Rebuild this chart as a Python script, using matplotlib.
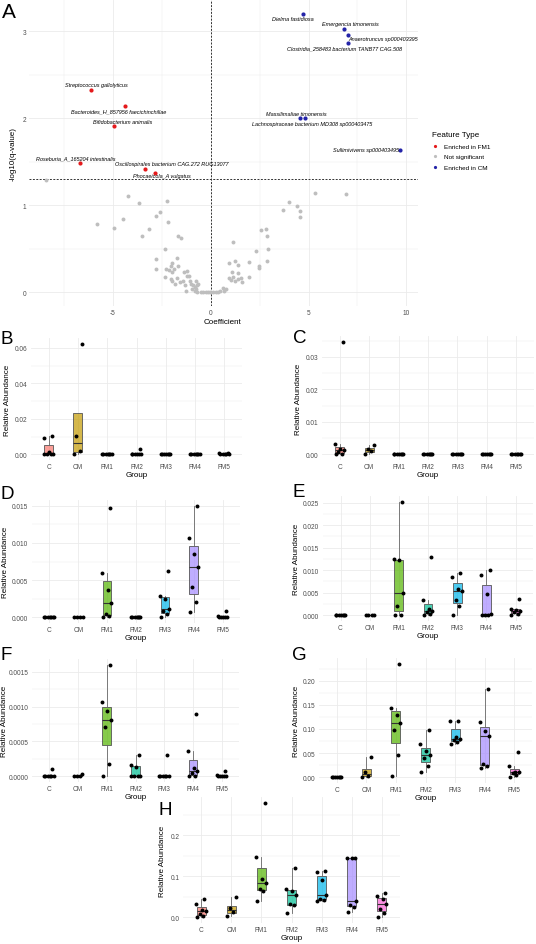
"""Volcano plot of differential taxa (A) plus per-group abundance boxplots (B-H)."""

import matplotlib

matplotlib.use("Agg")
import matplotlib.pyplot as plt
from matplotlib.lines import Line2D
from matplotlib.ticker import FixedLocator, FormatStrFormatter

plt.rcParams["font.family"] = ["Liberation Sans", "DejaVu Sans"]

W, H = 536, 945

# ---------------------------------------------------------------- data: A

FM1_NAMES = ["Streptococcus gallolyticus", "Bacteroides_H_857956 faecichinchillae",
             "Bifidobacterium animalis", "Roseburia_A_165204 intestinalis",
             "Oscillospirales bacterium CAG.272 RUG13077", "Phocaeicola_A vulgatus"]
FM1_X = [-6.12, -4.37, -4.91, -6.65, -3.35, -2.84]
FM1_Y = [2.33, 2.14, 1.91, 1.49, 1.42, 1.37]

CM_NAMES = ["Dielma fastidiosa", "Emergencia timonensis", "Anaerotruncus sp000403395",
            "Clostridia_258483 bacterium TANB77 CAG.508", "Massilimaliae timonensis",
            "Lachnospiraceae bacterium MD308 sp000403475", "Sullimivivens sp000403495"]
CM_X = [4.73, 6.82, 7.02, 7.04, 4.59, 4.81, 9.69]
CM_Y = [3.20, 3.03, 2.96, 2.87, 2.00, 2.00, 1.64]

NS_X = [-8.40, -5.82, -4.95, -4.48, -4.22, -3.66, -3.52, -3.14, -2.77, -2.56, -2.25,
        -2.18, -1.64, -1.52, -2.32, -2.80, -2.80, -2.33, -2.28, -2.13, -2.04, -1.95,
        -1.86, -1.99, -1.69, -1.67, -2.04, -1.95, -1.81, -1.72, -1.55, -1.43, -1.34,
        -1.20, -1.20, -1.08, -1.03, -1.25, -1.29, -0.99, -0.91, -0.94, -0.82, -0.73,
        -0.68, -0.73, -0.78, -0.68, -0.64, -0.50, -0.38, -0.24, -0.12, -0.02, 0.14,
        0.28, 0.40, 0.49, 0.61, 0.71, 0.78, 0.92, 0.92, 1.10, 1.15, 1.13, 1.06, 1.24,
        1.27, 1.39, 1.41, 1.41, 1.53, 1.62, 1.97, 1.97, 2.30, 2.46, 2.47, 2.56, 2.84,
        2.89, 2.93, 2.87, 3.69, 4.02, 4.39, 4.58, 4.58, 5.33, 6.90]
NS_Y = [1.29, 0.78, 0.74, 0.84, 1.11, 1.02, 0.65, 0.73, 0.88, 0.92, 1.05,
        0.81, 0.645, 0.62, 0.50, 0.38, 0.27, 0.175, 0.26, 0.25, 0.305, 0.34,
        0.26, 0.23, 0.39, 0.30, 0.15, 0.13, 0.095, 0.16, 0.115, 0.13, 0.23,
        0.24, 0.19, 0.18, 0.13, 0.01, 0.076, 0.095, 0.076, 0.038, 0.057, 0.13,
        0.084, 0.038, 0.015, 0.0, 0.095, 0.0, 0.0, 0.0, 0.0, 0.0, 0.0,
        0.0, 0.0, 0.015, 0.05, 0.01, 0.038, 0.34, 0.16, 0.23, 0.58, 0.17, 0.14, 0.36,
        0.13, 0.31, 0.225, 0.15, 0.16, 0.115, 0.35, 0.17, 0.47, 0.305, 0.28, 0.71, 0.73,
        0.64, 0.50, 0.36, 0.95, 1.04, 0.985, 0.935, 0.86, 1.14, 1.13]

Q_THRESH = 1.301  # -log10(0.05)

# ---------------------------------------------------------------- data: B-H

GROUPS = ["C", "CM", "FM1", "FM2", "FM3", "FM4", "FM5"]

ABUND_B = [
    [0, 0, 0, 0.0005, 0.0012, 0.009, 0.0105],
    [0.0002, 0.0021, 0.0105, 0.0625],
    [0, 0, 0, 0, 0, 0, 0],
    [0, 0, 0, 0.0001, 0.0003, 0.0005, 0.0028],
    [0, 0, 0, 0, 0, 0, 0],
    [0, 0, 0, 0, 0, 0, 0],
    [0.0001, 0.0002, 0.0003, 0.0004, 0.0005, 0.0006, 0.0007],
]
ABUND_C = [
    [0, 0.0002, 0.0008, 0.0012, 0.0015, 0.0033, 0.0347],
    [0.0002, 0.0009, 0.0015, 0.0029],
    [0, 0, 0, 0, 0, 0, 0],
    [0, 0, 0, 0, 0, 0, 0],
    [0, 0, 0, 0, 0, 0, 0],
    [0, 0, 0, 0, 0, 0, 0],
    [0, 0, 0, 0, 0, 0, 0],
]
ABUND_D = [
    [0, 0, 0, 0, 0, 0, 0],
    [0, 0, 0, 0],
    [0, 0.0002, 0.0005, 0.0019, 0.0037, 0.006, 0.0147],
    [0, 0, 0, 0, 0, 0, 0],
    [0.0001, 0.0004, 0.0008, 0.0011, 0.0025, 0.0029, 0.0062],
    [0.0007, 0.0021, 0.0041, 0.0068, 0.0085, 0.0107, 0.015],
    [0, 0, 0, 0, 0.0001, 0.0002, 0.00085],
]
ABUND_E = [
    [0, 0, 0, 0, 0, 0, 0],
    [0, 0, 0, 0],
    [0, 0, 0.002, 0.0049, 0.0122, 0.0124, 0.0252],
    [0, 0.0003, 0.0008, 0.001, 0.0014, 0.0034, 0.0129],
    [0, 0.0021, 0.0035, 0.0053, 0.0058, 0.0086, 0.0093],
    [0, 0, 0.0001, 0.0004, 0.0047, 0.0089, 0.01],
    [0, 0.0003, 0.0007, 0.001, 0.0012, 0.0015, 0.0036],
]
ABUND_F = [
    [0, 0, 0, 0, 0, 0, 0.000105],
    [0, 0, 0, 0.000035],
    [0, 0.00018, 0.00071, 0.00081, 0.00093, 0.00107, 0.0016],
    [0, 0, 0, 0, 0.00013, 0.00016, 0.0003],
    [0, 0, 0, 0, 0, 0, 0.000306],
    [0, 0, 0.00005, 0.000077, 0.000115, 0.00036, 0.00089],
    [0, 0, 0, 0, 0, 0.00002, 0.00008],
]
ABUND_G = [
    [0, 0, 0, 0, 0.0005, 0.001, 0.0015],
    [0.0, 0.0035, 0.0104, 0.041],
    [0.0035, 0.046, 0.097, 0.112, 0.129, 0.144, 0.235],
    [0.0104, 0.023, 0.04, 0.046, 0.055, 0.068, 0.097],
    [0.068, 0.074, 0.077, 0.079, 0.083, 0.117, 0.117],
    [0.019, 0.024, 0.028, 0.085, 0.095, 0.115, 0.183],
    [0, 0.0055, 0.009, 0.0105, 0.012, 0.023, 0.053],
]
ABUND_H = [
    [0, 0.004, 0.009, 0.0165, 0.018, 0.0335, 0.045],
    [0.002, 0.014, 0.022, 0.049],
    [0.041, 0.065, 0.068, 0.084, 0.094, 0.147, 0.28],
    [0.0106, 0.03, 0.032, 0.055, 0.065, 0.069, 0.12],
    [0.041, 0.042, 0.045, 0.055, 0.09, 0.11, 0.114],
    [0.012, 0.0245, 0.03, 0.04, 0.145, 0.146, 0.146],
    [0.0016, 0.0106, 0.02, 0.033, 0.045, 0.051, 0.059],
]

# ---------------------------------------------------------------- style

GROUP_COLORS = ["#F8766D", "#C49A00", "#53B400", "#00C094", "#00B6EB", "#A58AFF", "#FB61D7"]
JITTER = [-0.14, 0.07, -0.05, 0.15, 0.02, -0.17, 0.11]
RED, BLUE, GREY = "#E41A1C", "#2424A8", "#BEBEBE"
GRID = "#ebebeb"
TICK_COLOR = "#4d4d4d"
TICK_FS = 4.7
TITLE_FS = 5.8


def px_axes(fig, left, top, right, bottom, **kw):
    return fig.add_axes([left / W, 1 - bottom / H, (right - left) / W, (bottom - top) / H], **kw)


def style_axes(ax):
    for s in ax.spines.values():
        s.set_visible(False)
    ax.tick_params(which="both", length=0, pad=2.2, labelsize=TICK_FS, labelcolor=TICK_COLOR)
    ax.grid(which="major", color=GRID, lw=0.6, zorder=0)
    ax.grid(which="minor", color=GRID, lw=0.35, zorder=0)
    ax.set_axisbelow(True)


def fig_text(fig, x, y, s, **kw):
    fig.text(x / W, 1 - y / H, s, **kw)


def box_panel(fig, box, data, letter, letter_xy, ylab_x, ticks, minor, fmt):
    left, top, right, bottom = box
    ax = px_axes(fig, *box)
    pos = list(range(1, len(GROUPS) + 1))
    bp = ax.boxplot(data, positions=pos, widths=0.3, patch_artist=True,
                    showfliers=False, showcaps=False, whis=1.5,
                    boxprops=dict(edgecolor="#555555", lw=0.6),
                    whiskerprops=dict(color="#666666", lw=0.6),
                    medianprops=dict(color="#333333", lw=0.8))
    for patch, col in zip(bp["boxes"], GROUP_COLORS):
        r, g, b = matplotlib.colors.to_rgb(col)
        patch.set_facecolor((r, g, b, 0.7))
    for i, vals in enumerate(data):
        xs = [pos[i] + JITTER[k % len(JITTER)] for k in range(len(vals))]
        ax.scatter(xs, vals, s=8, color="black", zorder=5, lw=0)
    ax.set_xlim(0.4, 7.6)
    lo = min(min(v) for v in data)
    hi = max(max(v) for v in data)
    pad = (hi - lo) * 0.05
    ax.set_ylim(lo - pad, hi + pad)
    ax.set_xticks(pos)
    ax.set_xticklabels(GROUPS)
    ax.yaxis.set_major_locator(FixedLocator(ticks))
    ax.yaxis.set_minor_locator(FixedLocator(minor))
    ax.yaxis.set_major_formatter(FormatStrFormatter(fmt))
    style_axes(ax)
    ax.tick_params(axis="y", pad=2.6)
    ax.grid(which="minor", axis="x", visible=False)
    fig_text(fig, letter_xy[0], letter_xy[1], letter, fontsize=13.5, ha="left", va="top")
    fig_text(fig, ylab_x, (top + bottom) / 2, "Relative Abundance", fontsize=TITLE_FS,
             rotation=90, ha="center", va="center")
    fig_text(fig, (left + right) / 2, bottom + 15, "Group", fontsize=TITLE_FS,
             ha="center", va="center")
    return ax


fig = plt.figure(figsize=(W / 100, H / 100), dpi=100)

# ---------------------------------------------------------------- A: volcano

ax = px_axes(fig, 29, 1, 418, 307)
ax.scatter(NS_X, NS_Y, s=8, color=GREY, lw=0, zorder=3)
ax.scatter(FM1_X, FM1_Y, s=9, color=RED, lw=0, zorder=4)
ax.scatter(CM_X, CM_Y, s=9, color=BLUE, lw=0, zorder=4)
ax.axvline(0, color="#333333", ls=(0, (2, 1.5)), lw=0.7, zorder=2)
ax.axhline(Q_THRESH, color="#333333", ls=(0, (2, 1.5)), lw=0.7, zorder=2)

# label offsets (pixels) chosen to mimic the repelled labels
fm1_off = [(6, 5), (-6, -5), (8, 5), (-5, 5), (27, 5), (7, -3)]
cm_off = [(-10, -5), (6, 5), (35, -4), (-4, -5), (-4, 5), (7, -5), (-34, 0)]
for names, xs, ys, offs in [(FM1_NAMES, FM1_X, FM1_Y, fm1_off), (CM_NAMES, CM_X, CM_Y, cm_off)]:
    for name, x, y, (dx, dy) in zip(names, xs, ys, offs):
        ax.annotate(name, (x, y), xytext=(dx * 0.72, dy * 0.72), textcoords="offset points",
                    ha="center", va="center", fontsize=4.0, style="italic", zorder=6)

ax.set_xlim(-9.27, 10.59)
ax.set_ylim(-0.16, 3.36)
ax.xaxis.set_major_locator(FixedLocator([-5, 0, 5, 10]))
ax.xaxis.set_minor_locator(FixedLocator([-7.5, -2.5, 2.5, 7.5]))
ax.set_xticklabels(["-5", "0", "5", "10"])
ax.yaxis.set_major_locator(FixedLocator([0, 1, 2, 3]))
ax.yaxis.set_minor_locator(FixedLocator([0.5, 1.5, 2.5]))
style_axes(ax)
fig_text(fig, 2, 3, "A", fontsize=15, ha="left", va="top")
fig_text(fig, 13, 154, "-log10(q-value)", fontsize=TITLE_FS, rotation=90, ha="center", va="center")
fig_text(fig, 223, 322, "Coefficient", fontsize=TITLE_FS, ha="center", va="center")

handles = [Line2D([], [], ls="", marker="o", ms=2.3, mec="none", color=c)
           for c in [RED, GREY, BLUE]]
fig.legend(handles, ["Enriched in FM1", "Not significant", "Enriched in CM"],
           title="Feature Type", loc="upper left", bbox_to_anchor=(429 / W, 1 - 129 / H),
           frameon=False, fontsize=4.6, title_fontsize=5.8, handlelength=1.0,
           handletextpad=0.8, labelspacing=0.8, alignment="left", borderpad=0)

# ---------------------------------------------------------------- B-H

box_panel(fig, (31, 339, 242, 461), ABUND_B, "B", (1, 331), 8,
          [0, 0.02, 0.04, 0.06], [0.01, 0.03, 0.05], "%.2f")
box_panel(fig, (322, 337, 534, 461), ABUND_C, "C", (293, 330), 299,
          [0, 0.01, 0.02, 0.03], [0.005, 0.015, 0.025, 0.035], "%.2f")
box_panel(fig, (32, 501, 240, 624), ABUND_D, "D", (1, 486), 6,
          [0, 0.005, 0.010, 0.015], [0.0025, 0.0075, 0.0125], "%.3f")
box_panel(fig, (323, 497, 533, 622), ABUND_E, "E", (293, 484), 296,
          [0, 0.005, 0.010, 0.015, 0.020, 0.025], [0.0025, 0.0075, 0.0125, 0.0175, 0.0225],
          "%.3f")
box_panel(fig, (32, 660, 239, 783), ABUND_F, "F", (1, 647), 5,
          [0, 0.0005, 0.0010, 0.0015], [0.00025, 0.00075, 0.00125], "%.4f")
box_panel(fig, (319, 659, 532, 784), ABUND_G, "G", (292, 647), 297,
          [0, 0.05, 0.10, 0.15, 0.20], [0.025, 0.075, 0.125, 0.175, 0.225], "%.2f")
box_panel(fig, (183, 798, 400, 924), ABUND_H, "H", (158, 802), 163,
          [0, 0.1, 0.2], [0.05, 0.15, 0.25], "%.1f")

fig.savefig("out.png", dpi=100)
